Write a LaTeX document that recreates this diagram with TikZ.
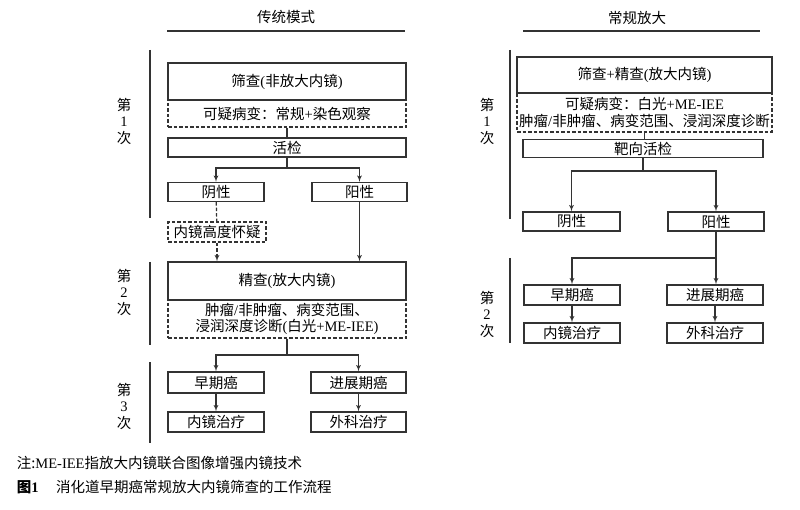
\documentclass[tikz,border=0pt]{standalone}
\usepackage{fontspec}
\setmainfont{Noto Sans CJK SC}
\newfontfamily\latfont{Liberation Serif}
\usetikzlibrary{shapes, arrows}
\tikzstyle{line} = [draw,-latex']
\tikzstyle{block}=[draw, rectangle, minimum height=19pt, inner sep=0pt, align=center]
\tikzstyle{dblock}=[block, dash pattern=on 3.5pt off 2pt]
\tikzstyle{dline}=[draw, dash pattern=on 3.5pt off 2pt]
\tikzstyle{phase}=[align=center]
\newcommand\lat[1]{{\latfont #1}}

\begin{document}
\begin{tikzpicture}[x=1pt, y=-1pt, line width=1.2pt, draw=black!80, font=\fontsize{14.5}{16.5}\selectfont]
		\useasboundingbox (0,0) rectangle (800,510);
		\node (head1) at (286,17) {传统模式};
		\draw (167,31) -- (405,31);
		\node (head2) at (637,18) {常规放大};
		\draw (523,31) -- (760,31);
		\draw (150,50) -- (150,218);
		\draw (150,262) -- (150,345);
		\draw (150,362) -- (150,443);
		\draw (510,50) -- (510,219);
		\draw (510,258) -- (510,343);
		\node[phase] (ph11) at (124,121) {第\\\lat{1}\\次};
		\node[phase] (ph12) at (124,292) {第\\\lat{2}\\次};
		\node[phase] (ph13) at (124,406) {第\\\lat{3}\\次};
		\node[phase] (ph21) at (487,121) {第\\\lat{1}\\次};
		\node[phase] (ph22) at (487,314) {第\\\lat{2}\\次};
		\node[dblock, minimum width=238pt, minimum height=27pt] (sus1) at (287,113.5) {可疑病变：常规\lat{+}染色观察};
		\node[block, minimum width=238pt, minimum height=37pt] (scr1) at (287,81.5) {筛查\lat{(}非放大内镜\lat{)}};
		\node[block, minimum width=238pt] (bio1) at (287,147.5) {活检};
		\node[block, minimum width=96pt] (neg1) at (216,192) {阴性};
		\node[block, minimum width=95pt] (pos1) at (359.5,192) {阳性};
		\node[dblock, minimum width=98pt, minimum height=20pt] (doubt) at (217,232) {内镜高度怀疑};
		\node[dblock, minimum width=238pt, minimum height=38pt] (diag1) at (287,319) {肿瘤\lat{/}非肿瘤、病变范围、\\浸润深度诊断\lat{(}白光\lat{+ME-IEE)}};
		\node[block, minimum width=238pt, minimum height=38pt] (fine1) at (287,281) {精查\lat{(}放大内镜\lat{)}};
		\node[block, minimum width=96pt, minimum height=21pt] (early1) at (216,382.5) {早期癌};
		\node[block, minimum width=95pt, minimum height=21pt] (adv1) at (358.5,382.5) {进展期癌};
		\node[block, minimum width=96pt, minimum height=20pt] (endo1) at (216,422) {内镜治疗};
		\node[block, minimum width=95pt, minimum height=20pt] (surg1) at (358.5,422) {外科治疗};
		\coordinate (br1) at (287,168);
		\coordinate (br2) at (287,355);
		\draw (sus1) -- (bio1);
		\draw (bio1) -- (br1);
		\draw[line] (br1) -| (neg1);
		\draw[line] (br1) -| (pos1);
		\draw[dline] (neg1) -- (doubt);
		\draw[dline, -latex'] (doubt) -- (doubt |- fine1.north);
		\draw[line] (pos1) -- (pos1 |- fine1.north);
		\draw (diag1) -- (br2);
		\draw[line] (br2) -| (early1);
		\draw[line] (br2) -| (adv1);
		\draw[line] (early1) -- (endo1);
		\draw[line] (adv1) -- (surg1);
		\node[dblock, minimum width=255pt, minimum height=39pt] (sus2) at (644.5,112.5) {可疑病变：白光\lat{+ME-IEE}\\肿瘤\lat{/}非肿瘤、病变范围、浸润深度诊断};
		\node[block, minimum width=255pt, minimum height=36pt] (scr2) at (644.5,75) {筛查\lat{+}精查\lat{(}放大内镜\lat{)}};
		\node[block, minimum width=240pt, minimum height=18pt] (bio2) at (643,148.5) {靶向活检};
		\node[block, minimum width=97pt] (neg2) at (571.5,221.5) {阴性};
		\node[block, minimum width=96pt] (pos2) at (716,221.5) {阳性};
		\node[block, minimum width=96pt, minimum height=20pt] (early2) at (572,295) {早期癌};
		\node[block, minimum width=96pt, minimum height=20pt] (adv2) at (715,295) {进展期癌};
		\node[block, minimum width=96pt, minimum height=20pt] (endo2) at (572,333) {内镜治疗};
		\node[block, minimum width=96pt, minimum height=20pt] (surg2) at (715,333) {外科治疗};
		\coordinate (br3) at (643,171);
		\coordinate (br4) at (716,258);
		\draw (sus2) -- (sus2 |- bio2.north);
		\draw (bio2) -- (br3);
		\draw[line] (br3) -| (neg2);
		\draw[line] (br3) -| (pos2);
		\draw (pos2) -- (br4);
		\draw[line] (br4) -| (early2);
		\draw[line] (br4) -- (br4 |- adv2.north);
		\draw[line] (early2) -- (endo2);
		\draw[line] (adv2) -- (surg2);
		\node[anchor=west] (note) at (13,463) {注:\lat{ME-IEE}指放大内镜联合图像增强内镜技术};
		\node[anchor=west] (fig) at (13,487) {\textbf{图\lat{1}}\hspace{1.2em}消化道早期癌常规放大内镜筛查的工作流程};
	\end{tikzpicture}
\end{document}
